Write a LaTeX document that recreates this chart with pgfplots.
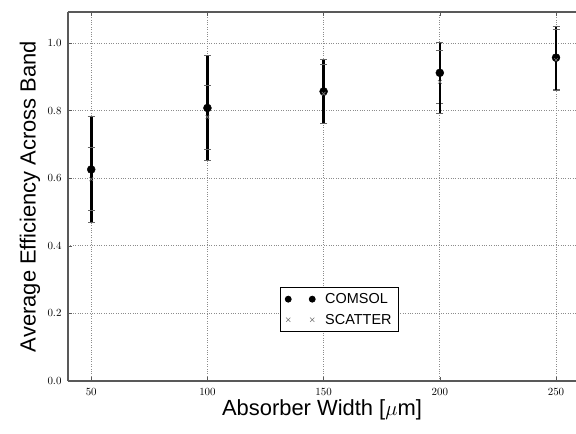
\documentclass[border=0pt]{standalone}
\usepackage{pgfplots}
\pgfplotsset{compat=1.18}
\usepackage{fontspec}
\setmainfont{Liberation Sans}
\begin{document}
\begin{tikzpicture}
\begin{axis}[
  scale only axis,
  width=508bp, height=369bp,
  xmin=40, xmax=258.6,
  ymin=0, ymax=1.092,
  axis x line=box,
  axis y line*=left,
  axis line style={draw=black!65, line width=1.2bp},
  xtick={50,100,150,200,250},
  ytick={0,0.2,0.4,0.6,0.8,1.0},
  yticklabel style={/pgf/number format/fixed, /pgf/number format/fixed zerofill, /pgf/number format/precision=1, font=\fontsize{10.5}{12}\selectfont, xshift=-3bp},
  xticklabel style={font=\fontsize{10.5}{12}\selectfont, yshift=-4bp},
  tick align=inside,
  major tick length=4bp,
  tick style={black!65, line width=0.6bp},
  grid=major,
  major grid style={black!45, dotted, line width=0.8bp},
  xlabel={Absorber Width [$\mu$m]},
  ylabel={Average Efficiency Across Band},
  label style={font=\fontsize{22}{26}\selectfont},
  xlabel style={at={(axis description cs:0.5,-0.0786)}, anchor=center},
  ylabel style={at={(axis description cs:-0.075,0.5)}, anchor=center},
  legend style={at={(axis description cs:0.417,0.133)}, anchor=south west, draw=black, line width=0.8bp, font=\fontsize{14.5}{17}\selectfont, fill=white, inner xsep=5bp, inner ysep=4bp, row sep=5bp, cells={anchor=west}},
  legend image code/.code={\draw[#1, only marks, mark size=3bp] plot coordinates {(0bp,0bp) (24bp,0bp)};},
  clip=false,
]
\addplot[only marks, mark=*, mark size=4bp, black,
  error bars/.cd, y dir=both, y explicit,
  error bar style={line width=2.6bp, black},
  error mark=|, error mark options={mark size=3.5bp, line width=0.8bp, black!60}]
  table[x=x, y=y, y error=e] {
  x   y     e
  50  0.626 0.156
  100 0.808 0.156
  150 0.857 0.095
  200 0.912 0.090
  250 0.957 0.093
};
\addlegendentry{\hspace{8bp}COMSOL}
\addplot[only marks, mark=x, mark size=2.6bp, black!55, line width=0.6bp,
  error bars/.cd, y dir=both, y explicit,
  error bar style={line width=2.6bp, black},
  error mark=|, error mark options={mark size=3.5bp, line width=0.8bp, black!60}]
  table[x=x, y=y, y error=e] {
  x   y     e
  50  0.597 0.093
  100 0.781 0.095
  150 0.850 0.088
  200 0.885 0.092
  250 0.950 0.090
};
\addlegendentry{\hspace{8bp}SCATTER}
\end{axis}
\pgfresetboundingbox
\path[use as bounding box] ([xshift=-68bp,yshift=-53bp]current axis.south west) rectangle ([yshift=12bp]current axis.north east);
\end{tikzpicture}
\end{document}
